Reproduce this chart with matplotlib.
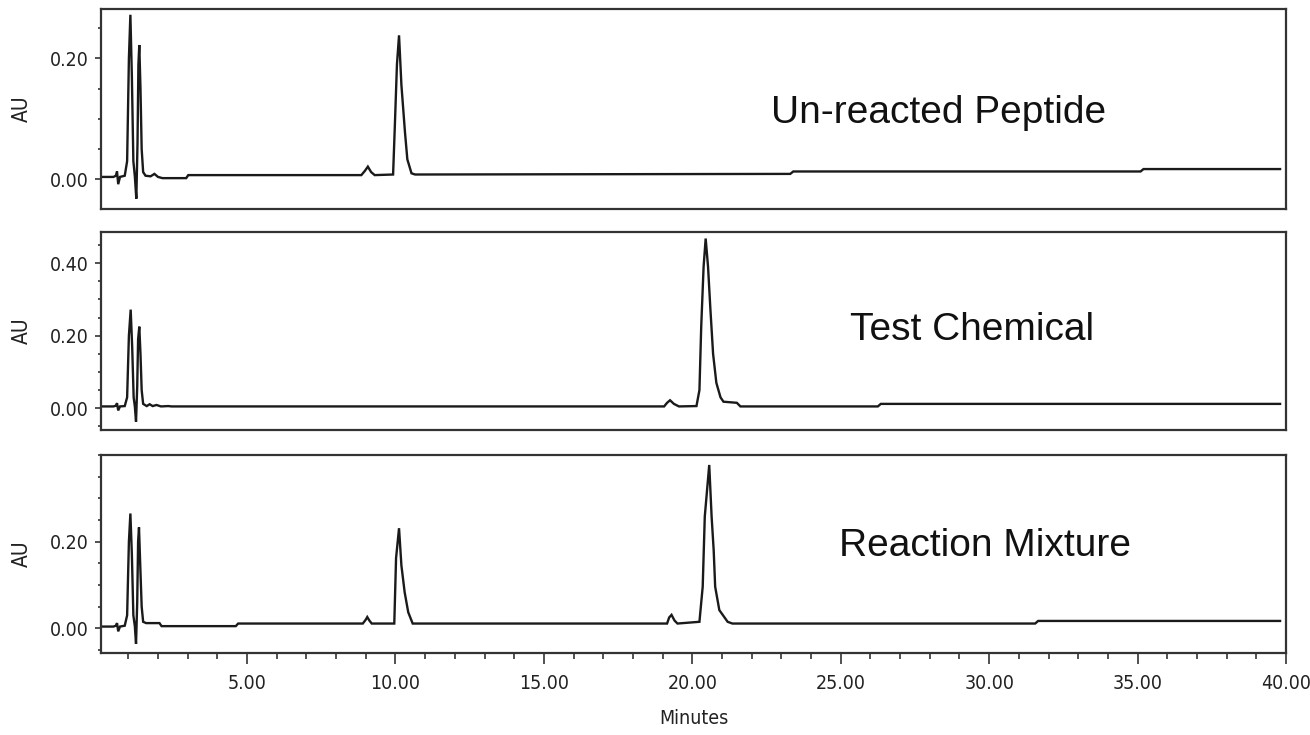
import matplotlib
matplotlib.use("Agg")
import matplotlib.pyplot as plt
from matplotlib import font_manager
from matplotlib.ticker import MultipleLocator, FormatStrFormatter

# (minutes, AU)
peptide = [(0.08, 0.004), (0.50, 0.004), (0.58, 0.006), (0.62, 0.013), (0.66, -0.008),
           (0.72, 0.004), (0.88, 0.006), (0.96, 0.03), (1.02, 0.20), (1.07, 0.272),
           (1.12, 0.17), (1.17, 0.03), (1.22, 0.005), (1.27, -0.032), (1.31, 0.06),
           (1.34, 0.19), (1.37, 0.222), (1.41, 0.15), (1.45, 0.05), (1.50, 0.012),
           (1.58, 0.006), (1.75, 0.005), (1.88, 0.009), (2.00, 0.004), (2.15, 0.002),
           (2.95, 0.002), (3.02, 0.007), (8.85, 0.007), (8.97, 0.014), (9.07, 0.021),
           (9.18, 0.012), (9.30, 0.007), (9.92, 0.008), (9.98, 0.09), (10.05, 0.19),
           (10.12, 0.238), (10.20, 0.156), (10.32, 0.078), (10.40, 0.033), (10.54, 0.010),
           (10.66, 0.008), (23.30, 0.009), (23.40, 0.013), (35.10, 0.013), (35.20, 0.017),
           (39.80, 0.017)]

chemical = [(0.08, 0.005), (0.50, 0.005), (0.58, 0.007), (0.62, 0.014), (0.66, -0.006),
            (0.72, 0.005), (0.88, 0.006), (0.96, 0.03), (1.02, 0.20), (1.08, 0.272),
            (1.13, 0.17), (1.18, 0.03), (1.22, 0.005), (1.26, -0.037), (1.30, 0.06),
            (1.33, 0.19), (1.37, 0.225), (1.41, 0.15), (1.45, 0.05), (1.50, 0.012),
            (1.62, 0.006), (1.72, 0.011), (1.82, 0.006), (1.95, 0.009), (2.10, 0.005),
            (2.35, 0.006), (2.45, 0.005), (19.05, 0.005), (19.15, 0.015), (19.25, 0.022),
            (19.38, 0.012), (19.55, 0.005), (20.14, 0.006), (20.24, 0.05), (20.30, 0.225),
            (20.38, 0.39), (20.45, 0.468), (20.53, 0.39), (20.61, 0.272), (20.70, 0.15),
            (20.81, 0.07), (20.95, 0.03), (21.05, 0.018), (21.50, 0.015), (21.62, 0.005),
            (26.25, 0.005), (26.35, 0.012), (39.80, 0.012)]

mixture = [(0.08, 0.004), (0.50, 0.004), (0.58, 0.006), (0.62, 0.012), (0.66, -0.007),
           (0.72, 0.004), (0.88, 0.006), (0.96, 0.03), (1.02, 0.20), (1.07, 0.265),
           (1.12, 0.17), (1.17, 0.03), (1.22, 0.005), (1.26, -0.036), (1.30, 0.06),
           (1.33, 0.20), (1.36, 0.233), (1.40, 0.15), (1.45, 0.05), (1.50, 0.015),
           (1.60, 0.012), (2.05, 0.012), (2.12, 0.005), (4.62, 0.005), (4.70, 0.011),
           (8.90, 0.011), (9.00, 0.020), (9.05, 0.026), (9.12, 0.018), (9.20, 0.011),
           (9.96, 0.011), (10.02, 0.162), (10.12, 0.231), (10.20, 0.145), (10.31, 0.083),
           (10.43, 0.037), (10.58, 0.011), (19.15, 0.011), (19.22, 0.025), (19.30, 0.031),
           (19.40, 0.018), (19.50, 0.011), (20.24, 0.015), (20.35, 0.096), (20.42, 0.258),
           (20.57, 0.377), (20.65, 0.258), (20.72, 0.18), (20.77, 0.096), (20.91, 0.042),
           (21.19, 0.015), (21.35, 0.011), (31.55, 0.011), (31.65, 0.017), (39.80, 0.017)]

traces = [peptide, chemical, mixture]
labels = ["Un-reacted Peptide", "Test Chemical", "Reaction Mixture"]
ylims = [(-0.049, 0.2815), (-0.060, 0.486), (-0.057, 0.400)]
yticks = [[0.0, 0.2], [0.0, 0.2, 0.4], [0.0, 0.2]]
xlim = (0.08, 40.0)

W, H = 1310, 735
# axes boxes in pixels: top, bottom
boxes = [(9, 209), (232, 430), (455, 653)]
left_px, right_px = 101, 1286
# label text: center x, baseline y in pixels
label_pos = [(939, 123), (972, 340), (985, 556)]

# pick a narrow font for the axis text if one is there
fonts = font_manager.fontManager.ttflist
names = {f.name for f in fonts}
if "Liberation Sans Narrow" in names:
    tick_kw = dict(family="Liberation Sans Narrow", fontsize=17)
elif any(f.name == "DejaVu Sans" and f.stretch == "condensed" for f in fonts):
    tick_kw = dict(family="DejaVu Sans", stretch="condensed", fontsize=14)
else:
    tick_kw = dict(family="Liberation Sans", fontsize=14)

frame_col = "#333333"
line_col = "#1a1a1a"
txt_col = "#222222"

fig = plt.figure(figsize=(W / 100, H / 100), dpi=100)

for i, data in enumerate(traces):
    top, bot = boxes[i]
    ax = fig.add_axes([left_px / W, 1 - bot / H, (right_px - left_px) / W, (bot - top) / H])
    t = [p[0] for p in data]
    a = [p[1] for p in data]
    ax.plot(t, a, color=line_col, lw=1.7, solid_joinstyle="miter")
    ax.set_xlim(*xlim)
    ax.set_ylim(*ylims[i])
    ax.set_yticks(yticks[i])
    ax.yaxis.set_minor_locator(MultipleLocator(0.05))
    ax.yaxis.set_major_formatter(FormatStrFormatter("%.2f"))
    for s in ax.spines.values():
        s.set_color(frame_col)
        s.set_linewidth(1.6)
    ax.tick_params(axis="y", which="major", length=4.5, width=1.2, color=frame_col, pad=4)
    ax.tick_params(axis="y", which="minor", length=2, width=1.2, color=frame_col)
    for lab in ax.get_yticklabels():
        lab.update(tick_kw)
        lab.set_color(txt_col)
    ax.set_ylabel("AU", color=txt_col, **dict(tick_kw, fontsize=tick_kw["fontsize"] + 1))
    ax.yaxis.set_label_coords((32 - left_px) / (right_px - left_px), 0.5)
    if i < 2:
        ax.tick_params(axis="x", which="both", bottom=False, labelbottom=False)
    else:
        ax.xaxis.set_major_locator(MultipleLocator(5))
        ax.xaxis.set_minor_locator(MultipleLocator(1))
        ax.xaxis.set_major_formatter(FormatStrFormatter("%.2f"))
        ax.tick_params(axis="x", which="major", length=8, width=1.2, color=frame_col, pad=7)
        ax.tick_params(axis="x", which="minor", length=4.5, width=1.2, color=frame_col)
        for lab in ax.get_xticklabels():
            lab.update(tick_kw)
            lab.set_color(txt_col)
        ax.set_xlabel("Minutes", color=txt_col, labelpad=12, **tick_kw)

    cx, by = label_pos[i]
    fig.text(cx / W, 1 - by / H, labels[i], ha="center", va="baseline",
             family=["Liberation Sans", "DejaVu Sans"], fontsize=28, color="#111111")

fig.savefig("out.png", dpi=100)
